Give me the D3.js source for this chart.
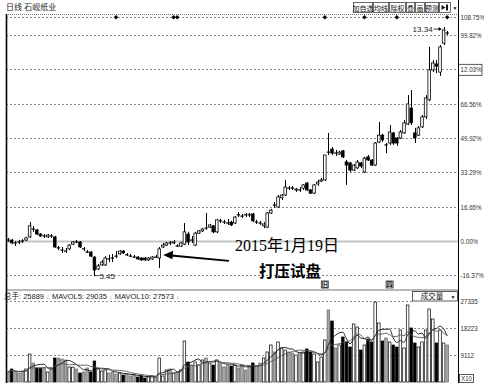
<!DOCTYPE html>
<html>
<head>
<meta charset="utf-8">
<script src="https://cdn.jsdelivr.net/npm/d3@7/dist/d3.min.js"></script>
<style>
body { margin: 0; background: #fff; }
svg { display: block; font-family: "Liberation Sans", "Noto Sans CJK SC", sans-serif; }
</style>
</head>
<body>
<svg id="chart" width="484" height="383"></svg>
<script>
// 石岘纸业 daily K line, prices in yuan, volume in 手
const basePrice = 6.55;
const opens = [6.58,6.58,6.49,6.52,6.55,6.58,6.68,6.93,6.90,6.77,6.71,6.68,6.71,6.68,6.33,6.26,6.23,6.30,6.45,6.52,
  6.52,6.30,6.20,6.20,6.04,5.66,5.79,5.79,5.98,6.01,6.07,6.14,6.23,6.11,6.07,6.04,6.04,6.01,6.01,5.95,
  5.98,6.04,6.01,6.36,6.42,6.49,6.49,6.39,6.39,6.45,6.77,6.58,6.42,6.80,6.87,6.96,6.99,7.03,6.84,7.19,
  7.15,7.12,7.15,7.12,7.38,7.34,7.38,7.38,7.41,7.15,7.12,7.03,6.99,7.44,7.69,7.63,7.92,8.01,8.23,8.23,
  8.17,8.17,8.23,8.39,8.17,8.07,8.36,8.45,8.49,9.37,9.47,9.34,9.31,9.41,9.06,9.03,8.80,8.87,9.03,8.74,
  9.22,9.12,8.96,9.69,9.91,9.60,9.66,9.98,9.82,9.82,9.98,10.26,10.77,9.98,9.91,10.17,10.49,11.03,11.98,12.17,
  11.91,12.83,13.15];
const highs = [6.65,6.61,6.55,6.58,6.61,6.68,7.15,7.03,6.93,6.80,6.77,6.77,6.77,6.71,6.39,6.36,6.33,6.45,6.55,6.58,
  6.55,6.36,6.26,6.23,6.07,5.82,5.95,6.07,6.11,6.14,6.23,6.26,6.26,6.17,6.14,6.11,6.07,6.04,6.04,6.04,
  6.07,6.11,6.36,6.49,6.52,6.55,6.58,6.45,6.52,7.12,6.84,6.71,6.84,6.90,6.96,7.44,7.09,7.06,7.25,7.25,
  7.22,7.25,7.19,7.34,7.47,7.41,7.44,7.44,7.44,7.22,7.19,7.15,7.47,7.57,7.79,8.01,8.04,8.49,8.30,8.30,
  8.23,8.26,8.36,8.42,8.20,8.36,8.49,8.55,9.28,9.98,9.53,9.44,9.41,9.44,9.12,9.06,8.99,9.12,9.06,9.22,
  9.28,9.15,9.69,10.33,9.95,9.66,10.23,10.01,9.85,10.07,10.39,11.18,11.34,10.14,10.20,10.55,11.18,12.71,12.29,12.29,
  12.77,13.34,13.22];
const lows = [6.52,6.45,6.39,6.45,6.49,6.55,6.65,6.84,6.74,6.68,6.65,6.65,6.65,6.33,6.26,6.17,6.17,6.26,6.42,6.49,
  6.33,6.23,6.17,6.04,5.45,5.63,5.76,5.76,5.88,5.88,6.01,6.11,6.14,6.07,6.04,6.01,5.95,5.92,5.92,5.92,
  5.95,6.01,5.69,6.33,6.39,6.42,6.45,6.36,6.36,6.42,6.42,6.49,6.39,6.77,6.84,6.90,6.96,6.80,6.80,7.12,
  7.09,7.06,7.03,7.09,7.31,7.28,7.31,7.31,7.15,7.09,7.06,6.96,6.96,7.41,7.60,7.60,7.85,7.98,8.17,8.17,
  8.11,8.11,8.17,8.14,8.04,8.04,8.30,8.42,8.45,9.28,9.28,9.25,9.28,9.18,8.33,8.74,8.77,8.84,8.87,8.71,
  9.09,8.93,8.93,9.66,9.69,9.34,9.60,9.60,9.57,9.79,9.95,10.23,10.23,9.66,9.88,10.14,10.42,10.99,11.91,11.88,
  11.79,12.77,13.09];
const closes = [6.58,6.49,6.49,6.52,6.55,6.65,7.03,6.93,6.77,6.71,6.71,6.74,6.71,6.36,6.33,6.26,6.23,6.42,6.52,6.52,
  6.36,6.30,6.20,6.07,5.63,5.76,5.88,6.01,5.98,6.01,6.07,6.23,6.17,6.11,6.07,6.04,5.98,5.95,5.95,6.01,
  6.04,6.04,6.30,6.42,6.49,6.49,6.52,6.39,6.49,6.84,6.52,6.58,6.80,6.87,6.93,6.96,7.06,6.84,7.22,7.19,
  7.15,7.12,7.06,7.31,7.38,7.34,7.38,7.38,7.19,7.15,7.12,7.09,7.44,7.53,7.69,7.95,8.01,8.26,8.23,8.23,
  8.20,8.17,8.33,8.17,8.07,8.33,8.42,8.49,9.28,9.37,9.34,9.34,9.37,9.22,8.96,8.80,8.96,9.06,8.93,9.18,
  9.12,8.96,9.66,9.91,9.76,9.60,10.01,9.66,9.66,10.01,10.30,10.90,10.30,9.82,10.14,10.49,11.09,11.98,12.20,12.10,
  12.71,13.25,13.15];
const volumes = [3380,4390,3380,3040,3710,4390,9450,6410,4730,4720,4700,3380,4390,8100,8050,7760,7430,5060,5000,4390,
  3040,3380,4730,3380,7090,4390,3710,4050,3040,3380,2700,3040,2360,2700,2030,2360,1690,2030,1350,1690,
  2030,1690,8100,2030,4050,4390,3040,3380,4050,13840,6750,5740,6750,5740,7430,8100,6410,5740,7430,6410,
  5060,5740,5400,5740,4730,5740,4050,5400,6410,5400,6410,8100,10130,12490,10130,13500,11480,10800,10130,9790,
  9110,9790,10130,11140,10130,9450,6750,8440,14180,24300,20590,11480,12490,15190,13500,11810,19580,18560,10800,12490,
  14510,13500,27000,19910,13840,14850,13500,12490,11810,17550,11480,25990,18230,13160,11810,13500,17550,24640,21260,13160,
  17550,13160,12490];

const pctTicks = [-16.37, 0, 16.65, 33.29, 49.92, 66.56, 83.19, 99.82, 108.75];
const pctLabels = ["-16.37%", "0.00%", "16.65%", "33.29%", "49.92%", "66.56%", "12.03%", "99.82%", "108.75%"];
const volTicks = [9112, 18223, 27335];
const diamondDays = [30, 46, 47, 88, 99, 108, 122];
const noteDay = 42;
const noteText = ["2015年1月19日", "打压试盘"];
const toolButtons = ["加自选", "均线", "除权", "叠", "画", "预测"];

const N = closes.length;
const data = d3.range(N).map(i => ({ i, o: opens[i], h: highs[i], l: lows[i], c: closes[i], v: volumes[i] }));
const pct = p => (p / basePrice - 1) * 100;
const squeeze = 0.78;   // axis digits are narrow in the original

const svg = d3.select("#chart");
const left = 6, right = 458;

const x = d3.scaleBand().domain(d3.range(N)).range([6.2, 449]).paddingInner(0.28).paddingOuter(0.14);
const cx = i => x(i) + x.bandwidth() / 2;
const y = d3.scaleLinear().domain([0, 99.82]).range([241, 35]);
const yv = d3.scaleLinear().domain([0, 27335]).range([382, 301]);

// ---------- main panel grid
svg.append("g").selectAll("line").data(pctTicks).join("line")
  .attr("x1", left).attr("x2", right)
  .attr("y1", d => Math.round(y(d)) + 0.5).attr("y2", d => Math.round(y(d)) + 0.5)
  .attr("stroke", d => d === 0 ? "#c4c4c4" : "#8a8a8a")
  .attr("stroke-width", d => d === 0 ? 2 : 1)
  .attr("stroke-dasharray", d => d === 0 ? null : "2,2");

// ---------- candles
const candles = svg.append("g").selectAll("g").data(data).join("g");
candles.append("line")
  .attr("x1", d => Math.round(cx(d.i)) + 0.5).attr("x2", d => Math.round(cx(d.i)) + 0.5)
  .attr("y1", d => y(pct(d.h))).attr("y2", d => y(pct(d.l)))
  .attr("stroke", "#000").attr("stroke-width", 1);
candles.filter(d => d.o !== d.c).append("rect")
  .attr("x", d => x(d.i))
  .attr("width", x.bandwidth())
  .attr("y", d => y(pct(Math.max(d.o, d.c))))
  .attr("height", d => Math.max(1, Math.abs(y(pct(d.o)) - y(pct(d.c)))))
  .attr("fill", d => d.c > d.o ? "#fff" : "#000")
  .attr("stroke", "#000").attr("stroke-width", 0.8);
candles.filter(d => d.o === d.c).append("line")
  .attr("x1", d => x(d.i) - 0.3).attr("x2", d => x(d.i) + x.bandwidth() + 0.3)
  .attr("y1", d => y(pct(d.c))).attr("y2", d => y(pct(d.c)))
  .attr("stroke", "#000").attr("stroke-width", 1.2);

// max / min notes
const fmt = d3.format(".2f");
const hi = d3.maxIndex(highs), lo = d3.minIndex(lows);
const hy = y(pct(highs[hi]));
svg.append("line").attr("x1", cx(hi) - 10).attr("x2", cx(hi) - 3).attr("y1", hy + 2).attr("y2", hy + 2)
  .attr("stroke", "#000").attr("stroke-width", 0.8);
svg.append("path").attr("d", `M${cx(hi) - 2},${hy + 2} l-3,-2 l0,4 z`).attr("fill", "#000");
svg.append("text").attr("x", cx(hi) - 11).attr("y", hy + 5).attr("text-anchor", "end")
  .attr("font-size", 8).attr("fill", "#222").text(fmt(highs[hi]));
const ly = y(pct(lows[lo]));
svg.append("path").attr("d", `M${cx(lo)},${ly - 4} V${ly} H${cx(lo) + 4}`)
  .attr("fill", "none").attr("stroke", "#000").attr("stroke-width", 0.8);
svg.append("text").attr("x", cx(lo) + 5).attr("y", ly + 3)
  .attr("font-size", 8).attr("fill", "#222").text(fmt(lows[lo]));

// top diamonds
svg.append("g").selectAll("path").data(diamondDays).join("path")
  .attr("d", d => `M${cx(d)},15 l2.2,2.2 l-2.2,2.2 l-2.2,-2.2 z`)
  .attr("fill", "#000");

// bottom info marks
[[88, "旧"], [106, "四"]].forEach(([d, t]) => {
  svg.append("rect").attr("x", cx(d) - 3.5).attr("y", 281).attr("width", 7).attr("height", 7)
    .attr("fill", "#fff").attr("stroke", "#333").attr("stroke-width", 0.8);
  svg.append("text").attr("x", cx(d)).attr("y", 287).attr("text-anchor", "middle")
    .attr("font-size", 6.5).attr("font-weight", "bold").attr("fill", "#111").text(t);
});

// the 2015-01-19 note and arrow
const ay = y(pct(closes[noteDay])) + 6;
svg.append("line").attr("x1", 229).attr("y1", ay + 6).attr("x2", cx(noteDay) + 12).attr("y2", ay + 0.6)
  .attr("stroke", "#000").attr("stroke-width", 2);
svg.append("path")
  .attr("d", `M${cx(noteDay) + 4},${ay} l10,-4.2 l-0.8,8.6 z`).attr("fill", "#000");
svg.append("text").attr("x", 287).attr("y", 251).attr("text-anchor", "middle")
  .attr("font-family", "'Liberation Serif', 'Noto Sans CJK SC', serif").attr("font-size", 16)
  .attr("fill", "#000").text(noteText[0]);
svg.append("text").attr("x", 290).attr("y", 277).attr("text-anchor", "middle")
  .attr("font-family", "'Noto Sans CJK SC', serif").attr("font-size", 15.5).attr("font-weight", "bold")
  .attr("fill", "#000").text(noteText[1]);

// ---------- divider between panels
svg.append("line").attr("x1", left).attr("x2", right).attr("y1", 290).attr("y2", 290)
  .attr("stroke", "#b8b8b8").attr("stroke-width", 2);

// ---------- volume panel
svg.append("g").selectAll("line").data(volTicks).join("line")
  .attr("x1", left).attr("x2", d => d === 27335 ? 412 : right)
  .attr("y1", d => Math.round(yv(d)) + 0.5).attr("y2", d => Math.round(yv(d)) + 0.5)
  .attr("stroke", "#8a8a8a").attr("stroke-dasharray", "2,2");

svg.append("g").selectAll("rect").data(data).join("rect")
  .attr("x", d => x(d.i))
  .attr("width", x.bandwidth())
  .attr("y", d => yv(d.v))
  .attr("height", d => yv(0) - yv(d.v))
  .attr("fill", d => d.c > d.o ? "#fff" : d.c < d.o ? "#000" : "#a9a9a9")
  .attr("stroke", d => d.c === d.o ? "#666" : "#000").attr("stroke-width", 0.7);

const ma = n => data.map((d, i) => d3.mean(volumes.slice(Math.max(0, i - n + 1), i + 1)));
const maLine = d3.line().x((v, i) => cx(i)).y(v => yv(v)).curve(d3.curveMonotoneX);
svg.append("path").attr("d", maLine(ma(5))).attr("fill", "none").attr("stroke", "#111").attr("stroke-width", 0.9);
svg.append("path").attr("d", maLine(ma(10))).attr("fill", "none").attr("stroke", "#555").attr("stroke-width", 0.9);

// volume header
const vh = svg.append("text").attr("x", 4).attr("y", 299).attr("font-size", 7.5).attr("fill", "#222");
vh.append("tspan").text("总手: 25889");
vh.append("tspan").attr("fill", "#999").text(" ↓   ");
vh.append("tspan").text("MAVOL5: 29035");
vh.append("tspan").attr("fill", "#999").text(" ↓   ");
vh.append("tspan").text("MAVOL10: 27573");
vh.append("tspan").attr("fill", "#999").text(" ↓");

svg.append("rect").attr("x", 412.5).attr("y", 291.5).attr("width", 45).attr("height", 9.5)
  .attr("fill", "#fff").attr("stroke", "#333").attr("stroke-width", 0.8);
svg.append("text").attr("x", 432).attr("y", 299).attr("text-anchor", "middle")
  .attr("font-size", 7.5).attr("fill", "#111").text("成交量");
svg.append("text").attr("x", 453).attr("y", 298.5).attr("text-anchor", "middle")
  .attr("font-size", 5).attr("fill", "#111").text("▼");

// ---------- right axes
const axP = svg.append("g").attr("transform", `translate(${right},0)`)
  .call(d3.axisRight(y).tickValues(pctTicks).tickFormat((d, i) => pctLabels[i]).tickSize(0).tickPadding(2));
const axV = svg.append("g").attr("transform", `translate(${right},0)`)
  .call(d3.axisRight(yv).tickValues(volTicks).tickFormat(d3.format("d")).tickSize(0).tickPadding(2));
[axP, axV].forEach(a => {
  a.select(".domain").remove();
  a.selectAll("text")
    .attr("font-size", 8).attr("fill", "#333")
    .attr("x", 2.5 / squeeze)
    .attr("transform", `scale(${squeeze},1)`);
});
axP.selectAll(".tick").filter(d => d === 83.19).insert("rect", "text")
  .attr("x", 0.5).attr("y", -5.5).attr("width", 23.5).attr("height", 11)
  .attr("fill", "#fff").attr("stroke", "#333").attr("stroke-width", 0.8);
svg.append("rect").attr("x", 459.5).attr("y", 374.5).attr("width", 14).attr("height", 8)
  .attr("fill", "#fff").attr("stroke", "#333").attr("stroke-width", 0.8);
svg.append("text").attr("x", 466.5 / squeeze).attr("y", 381).attr("text-anchor", "middle")
  .attr("transform", `scale(${squeeze},1)`)
  .attr("font-size", 7.5).attr("fill", "#333").text("X10");

// ---------- frame and header
svg.append("line").attr("x1", left).attr("x2", right).attr("y1", 14.5).attr("y2", 14.5)
  .attr("stroke", "#777").attr("stroke-dasharray", "1,1");
svg.append("line").attr("x1", left + 0.5).attr("x2", left + 0.5).attr("y1", 14).attr("y2", 383)
  .attr("stroke", "#000").attr("stroke-width", 1.6);
svg.append("line").attr("x1", right + 0.5).attr("x2", right + 0.5).attr("y1", 0).attr("y2", 383)
  .attr("stroke", "#000").attr("stroke-width", 1);
svg.append("text").attr("x", 6).attr("y", 10).attr("font-size", 8).attr("fill", "#222").text("日线  石岘纸业");

// toolbar buttons
const btnW = [19, 15, 16, 8, 9, 13];
let bx = 353;
toolButtons.forEach((t, k) => {
  svg.append("rect").attr("x", bx + 0.5).attr("y", 2.5).attr("width", btnW[k]).attr("height", 10)
    .attr("fill", "#fff").attr("stroke", "#444").attr("stroke-width", 0.8);
  svg.append("text").attr("x", bx + btnW[k] / 2 + 0.5).attr("y", 10.5).attr("text-anchor", "middle")
    .attr("font-size", 7).attr("fill", "#111").text(t);
  bx += btnW[k] + 1;
});
svg.append("rect").attr("x", bx + 0.5).attr("y", 2.5).attr("width", 11).attr("height", 10)
  .attr("fill", "#fff").attr("stroke", "#444").attr("stroke-width", 0.8);
svg.append("path").attr("d", `M${bx + 2.5},5 l4,2.5 l-4,2.5 z M${bx + 7},4.5 h2 v6 h-2 z`).attr("fill", "#111");
svg.append("text").attr("x", bx + 16).attr("y", 9.5).attr("text-anchor", "middle")
  .attr("font-size", 5).attr("fill", "#111").text("▼");
</script>
</body>
</html>
